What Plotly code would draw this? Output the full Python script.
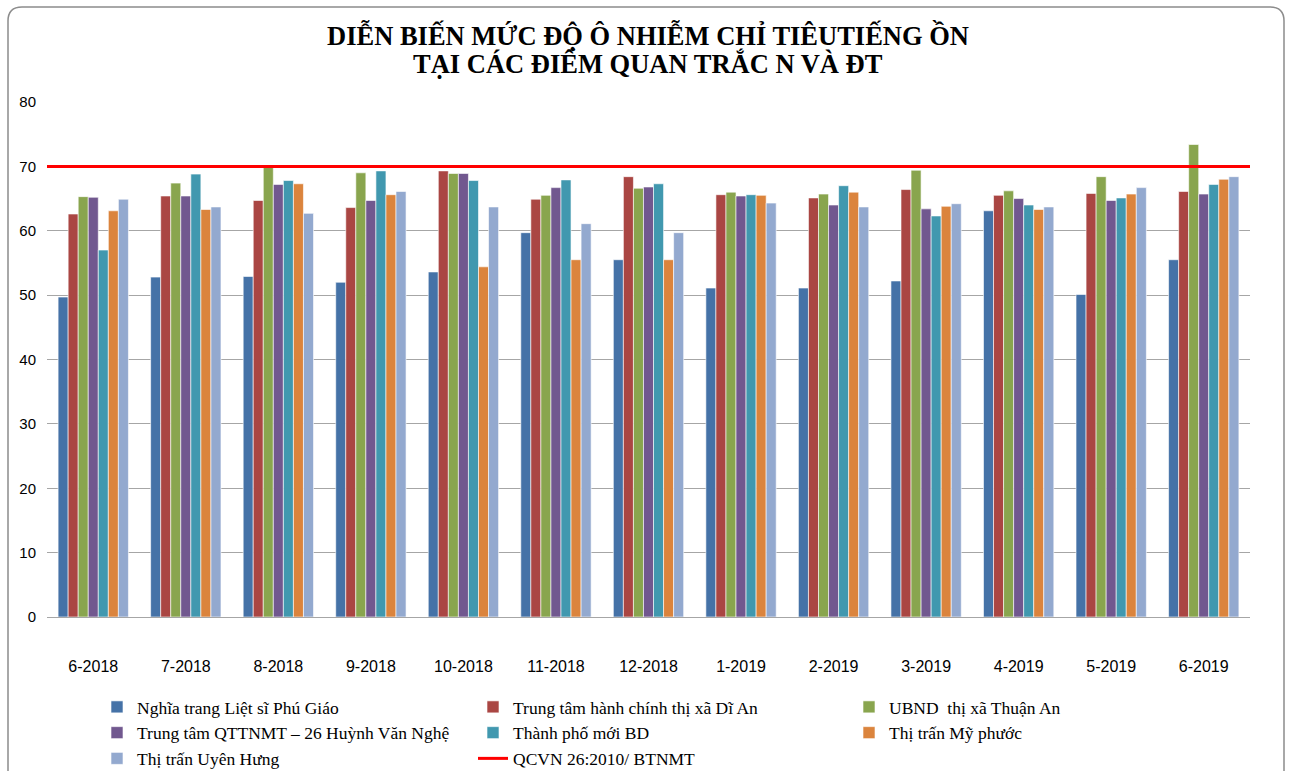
import plotly.graph_objects as go

months = ["6-2018", "7-2018", "8-2018", "9-2018", "10-2018", "11-2018", "12-2018",
          "1-2019", "2-2019", "3-2019", "4-2019", "5-2019", "6-2019"]

nghia_trang = [49.7, 52.8, 52.9, 52.0, 53.6, 59.7, 55.5, 51.1, 51.1, 52.2, 63.1, 50.1, 55.5]
di_an = [62.6, 65.4, 64.7, 63.6, 69.3, 64.9, 68.4, 65.6, 65.1, 66.4, 65.5, 65.8, 66.1]
thuan_an = [65.3, 67.4, 69.9, 69.0, 68.9, 65.5, 66.6, 66.0, 65.7, 69.4, 66.2, 68.4, 73.4]
qttnmt = [65.2, 65.4, 67.2, 64.7, 68.9, 66.7, 66.8, 65.4, 64.0, 63.4, 65.0, 64.7, 65.7]
tp_moi = [57.0, 68.8, 67.8, 69.3, 67.8, 67.9, 67.3, 65.6, 67.0, 62.3, 64.0, 65.1, 67.2]
my_phuoc = [63.1, 63.3, 67.3, 65.6, 54.4, 55.5, 55.5, 65.5, 66.0, 63.8, 63.3, 65.7, 68.0]
uyen_hung = [64.9, 63.7, 62.7, 66.1, 63.7, 61.1, 59.7, 64.3, 63.7, 64.2, 63.7, 66.7, 68.4]
qcvn = [70, 70]

title_lines = ["DIỄN BIẾN MỨC ĐỘ Ô NHIỄM CHỈ TIÊUTIẾNG ỒN", "TẠI CÁC ĐIỂM QUAN TRẮC N VÀ ĐT"]

series = [
    ("Nghĩa trang Liệt sĩ Phú Giáo", nghia_trang, "#4572A7"),
    ("Trung tâm hành chính thị xã Dĩ An", di_an, "#AA4643"),
    ("UBND  thị xã Thuận An", thuan_an, "#89A54E"),
    ("Trung tâm QTTNMT – 26 Huỳnh Văn Nghệ", qttnmt, "#71588F"),
    ("Thành phố mới BD", tp_moi, "#4198AF"),
    ("Thị trấn Mỹ phước", my_phuoc, "#DB843D"),
    ("Thị trấn Uyên Hưng", uyen_hung, "#93A9CF"),
]

W, H = 1291, 771
ML, MR, MT, MB = 47, 41, 102, 154
PW, PH = W - ML - MR, H - MT - MB

fig = go.Figure()
for name, vals, col in series:
    fig.add_trace(go.Bar(x=months, y=vals, name=name,
                         marker=dict(color=col, line=dict(color="rgba(255,255,255,0.6)", width=1))))

fig.add_trace(go.Scatter(x=[0, 1], y=qcvn, mode="lines", name="QCVN 26:2010/ BTNMT",
                         line=dict(color="#FF0000", width=3), xaxis="x2"))


def px(x):
    return (x - ML) / PW


def py(y):
    return (H - MB - y) / PH


r = 14
x0, x1, y0, y1 = 8, 1284, 7, 800
path = (f"M {px(x0+r)},{py(y0)} L {px(x1-r)},{py(y0)} Q {px(x1)},{py(y0)} {px(x1)},{py(y0+r)} "
        f"L {px(x1)},{py(y1)} L {px(x0)},{py(y1)} L {px(x0)},{py(y0+r)} Q {px(x0)},{py(y0)} {px(x0+r)},{py(y0)} Z")

annotations = []
for i, t in enumerate(title_lines):
    annotations.append(dict(text=f"<b>{t}</b>", x=px(648), xref="paper", y=py(35 + 29 * i),
                            yref="paper", xanchor="center", yanchor="middle", showarrow=False,
                            font=dict(family="Liberation Serif", size=26.5, color="black")))

fig.update_layout(
    width=W, height=H,
    margin=dict(l=ML, r=MR, t=MT, b=MB),
    paper_bgcolor="white", plot_bgcolor="white",
    barmode="group", bargap=0.24, bargroupgap=0,
    annotations=annotations,
    xaxis=dict(type="category", showgrid=False, showline=False, ticks="",
               tickfont=dict(family="Liberation Sans", size=16, color="black"),
               ticklabelstandoff=38),
    xaxis2=dict(overlaying="x", range=[0, 1], visible=False, showgrid=False),
    yaxis=dict(range=[0, 80], dtick=10, showgrid=True, gridcolor="#A6A6A6", gridwidth=1,
               zeroline=True, zerolinecolor="#A6A6A6", zerolinewidth=1,
               showline=False, ticks="", ticklabelstandoff=10,
               tickfont=dict(family="Liberation Sans", size=15, color="black")),
    legend=dict(orientation="h", xref="container", yref="container",
                x=97 / W, xanchor="left", y=1 - 689 / H, yanchor="top",
                entrywidth=331, entrywidthmode="pixels", traceorder="normal",
                font=dict(family="Liberation Serif", size=17.5, color="black"),
                tracegroupgap=0, itemwidth=30, bgcolor="rgba(0,0,0,0)"),
    showlegend=True,
    shapes=[dict(type="path", path=path, xref="paper", yref="paper",
                 line=dict(color="#8C8C8C", width=1.5), layer="below")],
)

fig.write_html("out.html")
